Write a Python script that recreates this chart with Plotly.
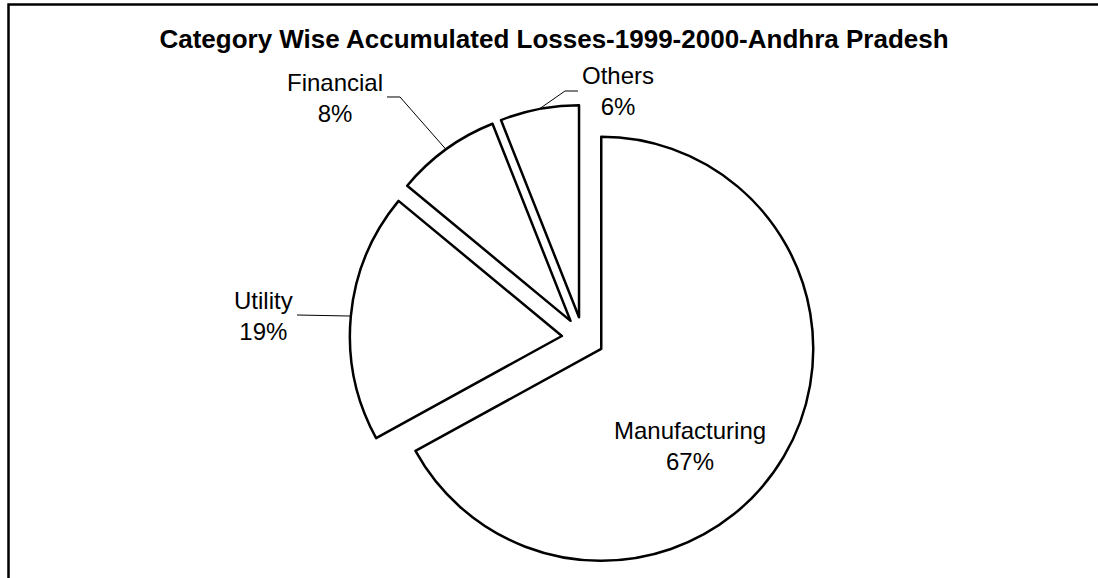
import math
import plotly.graph_objects as go

# Category-wise accumulated losses, Andhra Pradesh 1999-2000 (share, %)
categories = ["Manufacturing", "Utility", "Financial", "Others"]
shares = [67, 19, 8, 6]
pulls = [0.1, 0.1, 0.1, 0.1]

W, H = 1098, 578
CX, CY = 583, 338          # pie centre, px
R = 212                    # pie radius, px
FONT = "Arial, Liberation Sans, sans-serif"


def px(x, y):
    """pixel position -> paper fraction"""
    return x / W, 1 - y / H


side = 2 * R * (1 + max(pulls))
dom_y = [1 - (CY + side / 2) / H, 1 - (CY - side / 2) / H]
dom_x = [(CX - 280) / W, (CX + 280) / W]

fig = go.Figure(
    go.Pie(
        labels=categories,
        values=shares,
        pull=pulls,
        sort=False,
        direction="clockwise",
        rotation=0,
        textinfo="none",
        hoverinfo="label+percent",
        marker=dict(colors=["white"] * len(categories),
                    line=dict(color="black", width=2.5)),
        domain=dict(x=dom_x, y=dom_y),
        showlegend=False,
    )
)

total = sum(shares)


def arc_point(i):
    """point on the outer arc at the mid-angle of slice i (after pulling out)"""
    start = sum(shares[:i]) / total * 360
    mid = math.radians(start + shares[i] / total * 360 / 2)
    off = pulls[i] * R
    sx = CX + off * math.sin(mid)
    sy = CY - off * math.cos(mid)
    return sx + R * math.sin(mid), sy - R * math.cos(mid)


# label centres and leader-line bends (px)
label_pos = {
    "Manufacturing": (690, 446),
    "Utility": (263, 316),
    "Financial": (335, 98),
    "Others": (618, 91),
}
leader_bends = {
    "Utility": [(297, 315)],
    "Financial": [(387, 97), (400, 97)],
    "Others": [(578, 91), (565, 91)],
}

annotations = []
for i, cat in enumerate(categories):
    pct = round(shares[i] / total * 100)
    x, y = px(*label_pos[cat])
    annotations.append(dict(
        x=x, y=y, xref="paper", yref="paper",
        text=f"{cat}<br>{pct}%", showarrow=False,
        xanchor="center", yanchor="middle", align="center",
        font=dict(family=FONT, size=24, color="black"),
    ))

shapes = []
for i, cat in enumerate(categories):
    if cat not in leader_bends:
        continue
    pts = leader_bends[cat] + [arc_point(i)]
    path = "M " + " L ".join("{:.5f},{:.5f}".format(*px(*p)) for p in pts)
    shapes.append(dict(type="path", path=path, xref="paper", yref="paper",
                       line=dict(color="black", width=1)))

# frame along the left and top edges
frame = [(8.5, 580), (8.5, 4.5), (1100, 4.5)]
shapes.append(dict(
    type="path", xref="paper", yref="paper",
    path="M " + " L ".join("{:.5f},{:.5f}".format(*px(*p)) for p in frame),
    line=dict(color="black", width=2.5),
))

tx, ty = px(554, 38.5)
fig.update_layout(
    width=W, height=H,
    margin=dict(l=0, r=0, t=0, b=0),
    paper_bgcolor="white", plot_bgcolor="white",
    title=dict(text="<b>Category Wise Accumulated Losses-1999-2000-Andhra Pradesh</b>",
               x=tx, y=ty, xref="paper", yref="paper",
               xanchor="center", yanchor="middle",
               font=dict(family=FONT, size=26, color="black")),
    annotations=annotations,
    shapes=shapes,
)

fig.write_html("out.html")
